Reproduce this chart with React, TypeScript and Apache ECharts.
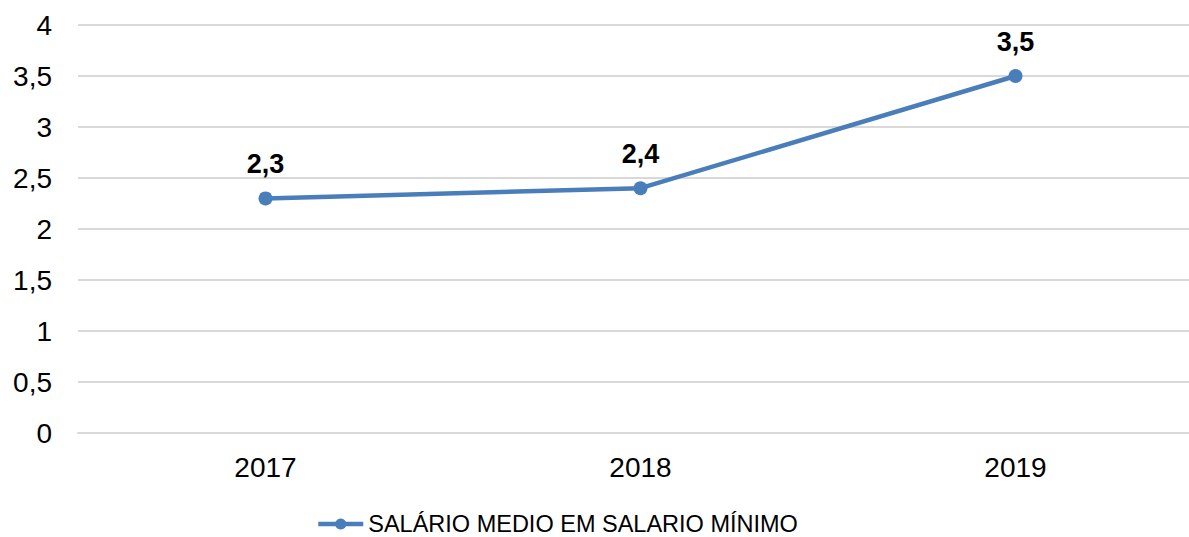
import React, { useEffect, useRef } from "react";
import * as echarts from "echarts";

const categories = ["2017", "2018", "2019"];
const values = [2.3, 2.4, 3.5];
const seriesName = "SALÁRIO MEDIO EM SALARIO MÍNIMO";

const fmt = (v: number) => String(v).replace(".", ",");
const FONT = "Liberation Sans, Arial, sans-serif";

export default function App() {
  const ref = useRef<HTMLDivElement>(null);
  useEffect(() => {
    if (!ref.current) return;
    const chart = echarts.init(ref.current, null, { renderer: "svg" });
    chart.setOption({
      animation: false,
      textStyle: { fontFamily: FONT },
      grid: { left: 78, right: 7, top: 25, bottom: 104, containLabel: false },
      legend: {
        left: 316,
        top: 512,
        padding: 0,
        itemWidth: 45,
        itemHeight: 14,
        lineStyle: { width: 4.5 },
        textStyle: { fontSize: 23.5, color: "#000", fontFamily: FONT },
        data: [seriesName],
      },
      xAxis: {
        type: "category",
        data: categories,
        boundaryGap: true,
        axisLine: { lineStyle: { color: "#d9d9d9", width: 2 } },
        axisTick: { show: false },
        axisLabel: { fontSize: 28, color: "#000", margin: 20 },
      },
      yAxis: {
        type: "value",
        min: 0,
        max: 4,
        interval: 0.5,
        axisLine: { show: false },
        axisTick: { show: false },
        splitLine: { lineStyle: { color: "#d9d9d9", width: 2 } },
        axisLabel: { fontSize: 28, color: "#000", margin: 26, formatter: (v: number) => fmt(v) },
      },
      series: [
        {
          name: seriesName,
          type: "line",
          data: values,
          symbol: "circle",
          symbolSize: 14,
          lineStyle: { color: "#4a7ebb", width: 4.5 },
          itemStyle: { color: "#4a7ebb" },
          label: {
            show: true,
            position: "top",
            distance: 14,
            fontSize: 27,
            fontWeight: "bold",
            color: "#000",
            formatter: (p: any) => fmt(p.value),
          },
        },
      ],
    });
    return () => chart.dispose();
  }, []);
  return (
    <div
      ref={ref}
      style={{ position: "absolute", left: 0, top: 0, width: 1210, height: 537 }}
    />
  );
}
